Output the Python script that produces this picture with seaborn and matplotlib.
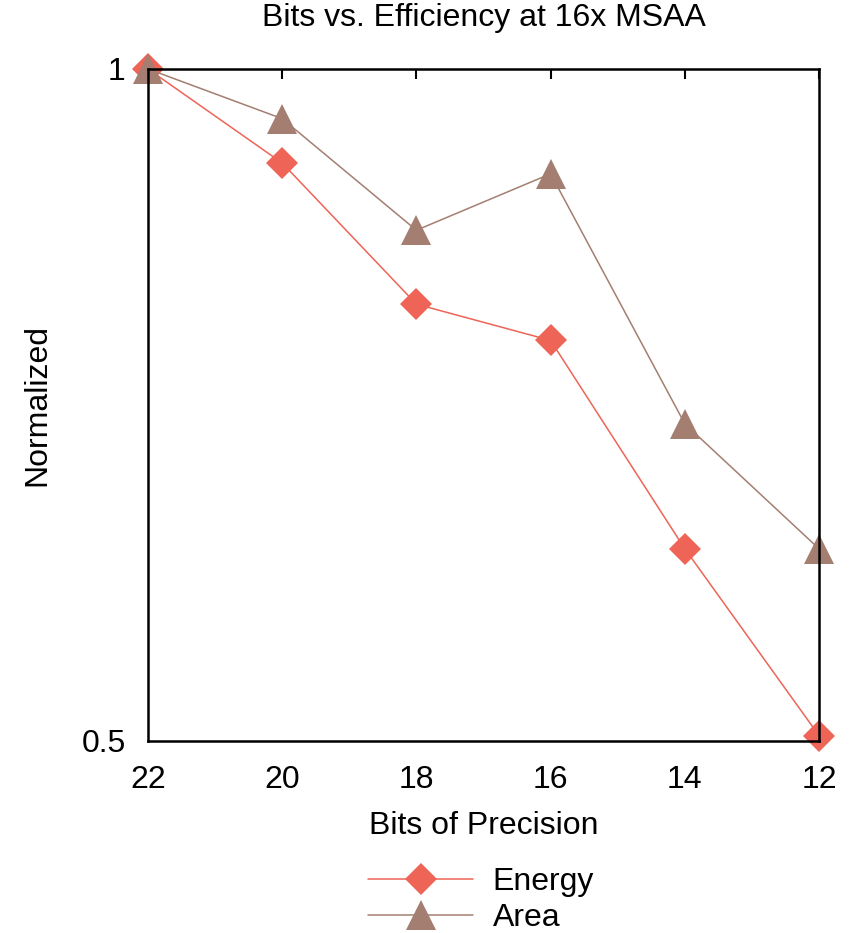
import matplotlib.pyplot as plt
import seaborn as sns
import pandas as pd

# Data
bits = [22, 20, 18, 16, 14, 12]
energy = [1.0, 0.930, 0.825, 0.798, 0.643, 0.504]
area = [1.0, 0.963, 0.880, 0.922, 0.736, 0.643]
series = ['Energy', 'Area']

df = pd.DataFrame({
    'bits': bits * 2,
    'value': energy + area,
    'series': ['Energy'] * len(bits) + ['Area'] * len(bits),
})

sns.set_style('white')
plt.rcParams['font.family'] = ['Liberation Sans', 'DejaVu Sans']
plt.rcParams['text.color'] = 'black'
plt.rcParams['axes.labelcolor'] = 'black'
plt.rcParams['xtick.color'] = 'black'
plt.rcParams['ytick.color'] = 'black'

fig = plt.figure(figsize=(8.49, 9.33), dpi=100)
ax = fig.add_axes([0.1743, 0.2058, 0.7904, 0.7203])

palette = {'Energy': '#ee6457', 'Area': '#a47e71'}
markers = {'Energy': 'D', 'Area': '^'}
sizes = {'Energy': 16, 'Area': 21}

for s in series:
    sub = df[df['series'] == s]
    sns.lineplot(data=sub, x='bits', y='value', ax=ax, color=palette[s],
                 marker=markers[s], markersize=sizes[s], markeredgewidth=0,
                 linewidth=1.1, label=s, clip_on=False)

ax.set_xlim(22, 12)
ax.set_ylim(0.5, 1)
ax.set_xticks(bits)
ax.set_yticks([0.5, 1])
ax.set_yticklabels(['0.5', '1'])
ax.tick_params(axis='x', direction='in', length=7, width=1.5, top=True,
               labelsize=23, pad=17)
ax.tick_params(axis='y', length=0, labelsize=23, pad=16)
for sp in ax.spines.values():
    sp.set_color('black')
    sp.set_linewidth(1.8)

ax.set_title('Bits vs. Efficiency at 16x MSAA', fontsize=23, pad=31)
ax.set_xlabel('Bits of Precision', fontsize=23, labelpad=12)
ax.set_ylabel('Normalized', fontsize=23, labelpad=21)

ax.legend(loc='upper left', bbox_to_anchor=(368 / 849, 1 - 867 / 933),
          bbox_transform=fig.transFigure, frameon=False, borderpad=0,
          borderaxespad=0, fontsize=23, handlelength=3.3, labelspacing=0.2,
          handletextpad=0.6)

fig.savefig('out.png', dpi=100, facecolor='white')
